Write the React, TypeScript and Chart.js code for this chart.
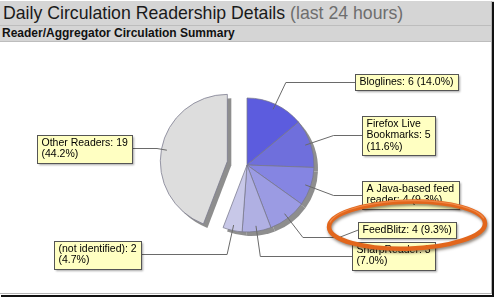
import React, { useEffect, useRef } from "react";
import { Chart, registerables } from "chart.js";

Chart.register(...registerables);

// ---------- data ----------
const categories = [
  "Bloglines",
  "Firefox Live Bookmarks",
  "A Java-based feed reader",
  "FeedBlitz",
  "SharpReader",
  "(not identified)",
  "Other Readers",
];
const readerCounts = [6, 5, 4, 4, 3, 2, 19];
const sliceColors = ["#5c5cde", "#6f6fdc", "#8585e2", "#9b9be3", "#b0b0e3", "#c8c8e8", "#dddddd"];
const titleMain = "Daily Circulation Readership Details";
const titleNote = "(last 24 hours)";
const subtitleText = "Reader/Aggregator Circulation Summary";
const explodedCategory = "Other Readers";
const highlightedCategory = "FeedBlitz";

// ---------- layout / style ----------
const W = 496;
const H = 300;
const PIE_RADIUS = 67;
const EXPLODE_PX = 20;
const SHADOW_PX = 4;
const LABEL_FONT = '10.5px "Liberation Sans", Arial, sans-serif';
const LINE_H = 11.3;
const PAD_X = 4.5;
const MAX_TEXT_W = 99;
const BOX_GAP = 3;

function wrapText(ctx: CanvasRenderingContext2D, text: string, maxW: number): string[] {
  const words = text.split(" ");
  const lines: string[] = [];
  let cur = "";
  for (const w of words) {
    const t = cur ? cur + " " + w : w;
    if (cur && ctx.measureText(t).width > maxW) {
      lines.push(cur);
      cur = w;
    } else cur = t;
  }
  if (cur) lines.push(cur);
  return lines;
}

const pieDecor = {
  id: "pieDecor",
  beforeDatasetsDraw(chart: any) {
    const meta = chart.getDatasetMeta(0);
    const ctx: CanvasRenderingContext2D = chart.ctx;
    meta.data.forEach((arc: any, i: number) => {
      arc.$explode = categories[i] === explodedCategory ? EXPLODE_PX : 0;
      if (!arc.$wrapped) {
        arc.$wrapped = true;
        const orig = arc.draw;
        arc.draw = function (c: CanvasRenderingContext2D, area: any) {
          const e = this.$explode || 0;
          const mid = (this.startAngle + this.endAngle) / 2;
          c.save();
          c.translate(Math.cos(mid) * e, Math.sin(mid) * e);
          orig.call(this, c, area);
          c.restore();
        };
      }
    });
    // shadows
    ctx.save();
    ctx.fillStyle = "#8e8e8e";
    meta.data.forEach((arc: any) => {
      const e = arc.$explode || 0;
      const mid = (arc.startAngle + arc.endAngle) / 2;
      const cx = arc.x + Math.cos(mid) * e + SHADOW_PX;
      const cy = arc.y + Math.sin(mid) * e + SHADOW_PX;
      ctx.beginPath();
      ctx.moveTo(cx, cy);
      ctx.arc(cx, cy, arc.outerRadius, arc.startAngle, arc.endAngle);
      ctx.closePath();
      ctx.fill();
    });
    ctx.restore();
  },
  afterDatasetsDraw(chart: any) {
    const meta = chart.getDatasetMeta(0);
    const ctx: CanvasRenderingContext2D = chart.ctx;
    const total = readerCounts.reduce((a, b) => a + b, 0);
    ctx.save();
    ctx.font = LABEL_FONT;
    const items = meta.data.map((arc: any, i: number) => {
      const e = arc.$explode || 0;
      const r = arc.outerRadius;
      const mid = (arc.startAngle + arc.endAngle) / 2;
      const dx = Math.cos(mid);
      const dy = Math.sin(mid);
      const anchor = { x: arc.x + dx * (e + r * 0.918), y: arc.y + dy * (e + r * 0.918) };
      const elbow = { x: arc.x + dx * r * 1.366, y: arc.y + dy * r * 1.366 };
      const side = dx >= 0 ? 1 : -1;
      const text = `${categories[i]}: ${readerCounts[i]} (${((readerCounts[i] / total) * 100).toFixed(1)}%)`;
      const lines = wrapText(ctx, text, MAX_TEXT_W);
      const tw = Math.max(...lines.map((l) => ctx.measureText(l).width));
      const bw = Math.round(tw + PAD_X * 2);
      const bh = 5 + lines.length * LINE_H;
      const nearX = arc.x + side * (r * 1.542 + 0.13 * Math.abs(elbow.x - arc.x));
      const bx = Math.round(side > 0 ? nearX : nearX - bw);
      return { i, anchor, elbow, side, lines, bw, bh, bx, by: elbow.y - bh / 2, nearX: side > 0 ? bx : bx + bw };
    });
    // resolve vertical overlaps per side
    [1, -1].forEach((s) => {
      const list = items.filter((it: any) => it.side === s).sort((a: any, b: any) => a.elbow.y - b.elbow.y);
      for (let k = list.length - 2; k >= 0; k--) {
        const a = list[k];
        const b = list[k + 1];
        if (a.by + a.bh + BOX_GAP > b.by) a.by = b.by - BOX_GAP - a.bh;
      }
    });
    items.forEach((it: any) => (it.by = Math.round(it.by)));
    // leader lines
    ctx.strokeStyle = "#6a6a6a";
    ctx.lineWidth = 1;
    items.forEach((it: any) => {
      const ey = Math.round(it.elbow.y) + 0.5;
      const midY = it.by + it.bh / 2;
      ctx.beginPath();
      ctx.moveTo(it.anchor.x, it.anchor.y);
      ctx.lineTo(it.elbow.x, ey);
      ctx.lineTo(it.nearX - it.side * 19, ey);
      ctx.lineTo(it.nearX, Math.abs(midY - ey) < 1.5 ? ey : midY);
      ctx.stroke();
    });
    // boxes
    items.forEach((it: any) => {
      ctx.save();
      ctx.shadowColor = "rgba(0,0,0,0.35)";
      ctx.shadowBlur = 2;
      ctx.shadowOffsetX = 2;
      ctx.shadowOffsetY = 2;
      ctx.fillStyle = "#ffffc2";
      ctx.fillRect(it.bx, it.by, it.bw, Math.round(it.bh));
      ctx.restore();
      ctx.strokeStyle = "#555555";
      ctx.lineWidth = 1;
      ctx.strokeRect(it.bx + 0.5, it.by + 0.5, it.bw, Math.round(it.bh));
      ctx.fillStyle = "#000000";
      ctx.textBaseline = "alphabetic";
      ctx.textAlign = "left";
      it.lines.forEach((l: string, k: number) => {
        ctx.fillText(l, it.bx + PAD_X, it.by + 11 + k * LINE_H);
      });
    });
    // highlight ellipse around one label
    const hi = items.find((it: any) => categories[it.i] === highlightedCategory);
    if (hi) {
      const cx = hi.bx + hi.bw / 2;
      const cy = hi.by + hi.bh / 2 - 5;
      const rx = hi.bw / 2 + 29;
      const ry = 23.5;
      ctx.save();
      ctx.shadowColor = "rgba(40,20,0,0.5)";
      ctx.shadowBlur = 3;
      ctx.shadowOffsetX = 1;
      ctx.shadowOffsetY = 2;
      ctx.strokeStyle = "#e2661c";
      ctx.lineWidth = 4.5;
      ctx.beginPath();
      ctx.ellipse(cx, cy, rx, ry, -0.025, 0, Math.PI * 2);
      ctx.stroke();
      ctx.restore();
      ctx.save();
      ctx.strokeStyle = "rgba(250,160,100,0.6)";
      ctx.lineWidth = 1.2;
      ctx.beginPath();
      ctx.ellipse(cx, cy - 1, rx, ry, -0.025, Math.PI * 1.05, Math.PI * 1.95);
      ctx.stroke();
      ctx.restore();
    }
    ctx.restore();
  },
};

export default function App() {
  const ref = useRef<HTMLCanvasElement | null>(null);
  useEffect(() => {
    if (!ref.current) return;
    const chart = new Chart(ref.current, {
      type: "pie",
      data: {
        labels: categories,
        datasets: [
          {
            data: readerCounts,
            backgroundColor: sliceColors,
            borderColor: "rgba(120,120,140,0.75)",
            borderWidth: 1,
          },
        ],
      },
      options: {
        responsive: false,
        animation: false,
        events: [],
        radius: PIE_RADIUS,
        layout: { padding: { left: 60, right: 62, top: 80, bottom: 50 } },
        plugins: { legend: { display: false }, tooltip: { enabled: false }, title: { display: false } },
      } as any,
      plugins: [pieDecor],
    });
    return () => chart.destroy();
  }, []);

  const font = '"Liberation Sans", Arial, Helvetica, sans-serif';
  return (
    <div style={{ position: "fixed", left: 0, top: 0, width: W, height: H, background: "#fff", overflow: "hidden" }}>
      <canvas ref={ref} width={W} height={H} style={{ position: "absolute", left: 0, top: 0, width: W, height: H }} />
      <div
        style={{
          position: "absolute", left: 0, top: 1, width: 491, height: 24, background: "#d5d5d5",
          borderBottom: "1px solid #bdbdbd", font: `17.7px ${font}`, lineHeight: "24px", color: "#1a1a1a",
          paddingLeft: 3, boxSizing: "content-box", whiteSpace: "nowrap",
        }}
      >
        {titleMain} <span style={{ color: "#6e6e6e" }}>{titleNote}</span>
      </div>
      <div
        style={{
          position: "absolute", left: 0, top: 26, width: 491, height: 15, background: "#d5d5d5",
          borderBottom: "1px solid #bdbdbd", font: `bold 12px ${font}`, lineHeight: "15px", color: "#111",
          paddingLeft: 2, whiteSpace: "nowrap",
        }}
      >
        {subtitleText}
      </div>
      <div style={{ position: "absolute", left: 491, top: 1, width: 1, height: 293, background: "#b5b5b5" }} />
      <div style={{ position: "absolute", left: 0, top: 293, width: 492, height: 1, background: "#b5b5b5" }} />
      <div style={{ position: "absolute", left: 492, top: 2, width: 2, height: 295, background: "#111" }} />
      <div style={{ position: "absolute", left: 1, top: 295, width: 493, height: 2, background: "#111" }} />
    </div>
  );
}
